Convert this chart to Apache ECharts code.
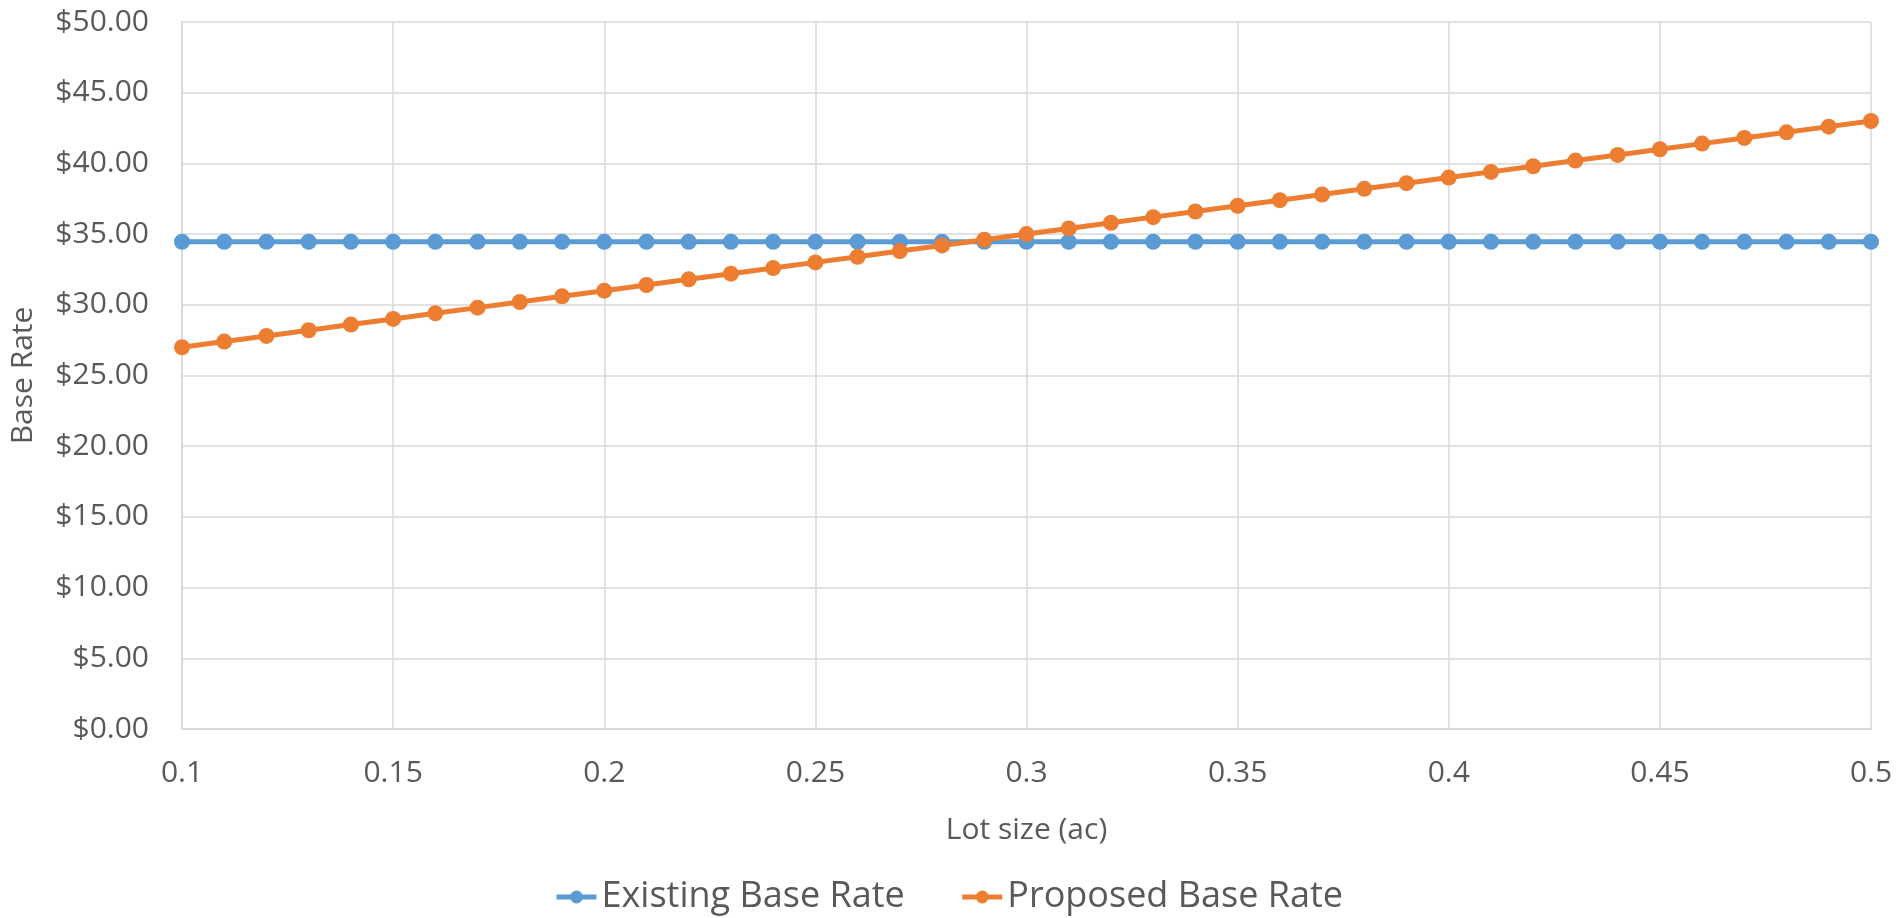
<!DOCTYPE html>
<html>
<head>
<meta charset="utf-8">
<script src="https://cdn.jsdelivr.net/npm/echarts@6/dist/echarts.min.js"></script>
<style>
html,body{margin:0;padding:0;background:#fff;}
#chart{width:1897px;height:918px;}
</style>
</head>
<body>
<div id="chart"></div>
<script>
const lotSizes = [0.10,0.11,0.12,0.13,0.14,0.15,0.16,0.17,0.18,0.19,0.20,0.21,0.22,0.23,0.24,0.25,0.26,0.27,0.28,0.29,0.30,0.31,0.32,0.33,0.34,0.35,0.36,0.37,0.38,0.39,0.40,0.41,0.42,0.43,0.44,0.45,0.46,0.47,0.48,0.49,0.50];
const existingRate = [34.46,34.46,34.46,34.46,34.46,34.46,34.46,34.46,34.46,34.46,34.46,34.46,34.46,34.46,34.46,34.46,34.46,34.46,34.46,34.46,34.46,34.46,34.46,34.46,34.46,34.46,34.46,34.46,34.46,34.46,34.46,34.46,34.46,34.46,34.46,34.46,34.46,34.46,34.46,34.46,34.46];
const proposedRate = [27.0,27.4,27.8,28.2,28.6,29.0,29.4,29.8,30.2,30.6,31.0,31.4,31.8,32.2,32.6,33.0,33.4,33.8,34.2,34.6,35.0,35.4,35.8,36.2,36.6,37.0,37.4,37.8,38.2,38.6,39.0,39.4,39.8,40.2,40.6,41.0,41.4,41.8,42.2,42.6,43.0];
const seriesNames = ['Existing Base Rate','Proposed Base Rate'];
const xTitle = 'Lot size (ac)';
const yTitle = 'Base Rate';

const font = '"Open Sans", "Noto Sans", sans-serif';
const textColor = '#595959';
const gridColor = '#d9d9d9';

const chart = echarts.init(document.getElementById('chart'));
const pairs = (ys) => lotSizes.map((x, i) => [x, ys[i]]);

chart.setOption({
  animation: false,
  color: ['#5B9BD5', '#ED7D31'],
  grid: { left: 181, right: 26, top: 22, bottom: 189, containLabel: false },
  xAxis: {
    type: 'value',
    min: 0.1, max: 0.5, interval: 0.05,
    name: xTitle,
    nameLocation: 'middle',
    nameGap: 86,
    nameTextStyle: { fontFamily: font, fontSize: 30, color: textColor },
    axisLine: { show: true, lineStyle: { color: gridColor, width: 2 } },
    axisTick: { show: false },
    splitLine: { show: true, lineStyle: { color: gridColor, width: 1.5 } },
    axisLabel: {
      fontFamily: font, fontSize: 30, color: textColor, margin: 29,
      formatter: (v) => String(Math.round(v * 100) / 100)
    }
  },
  yAxis: {
    type: 'value',
    min: 0, max: 50, interval: 5,
    name: yTitle,
    nameLocation: 'middle',
    nameGap: 144,
    nameRotate: 90,
    nameTextStyle: { fontFamily: font, fontSize: 30, color: textColor },
    axisLine: { show: true, lineStyle: { color: gridColor, width: 2 } },
    axisTick: { show: false },
    splitLine: { show: true, lineStyle: { color: gridColor, width: 1.5 } },
    axisLabel: {
      fontFamily: font, fontSize: 30, color: textColor, margin: 33,
      formatter: (v) => '$' + v.toFixed(2)
    }
  },
  legend: {
    data: seriesNames,
    left: 'center',
    top: 874,
    itemGap: 55,
    itemWidth: 40,
    itemHeight: 16,
    lineStyle: { width: 5 },
    textStyle: { fontFamily: font, fontSize: 36, color: textColor }
  },
  series: [
    {
      name: seriesNames[0], type: 'line', data: pairs(existingRate),
      symbol: 'circle', symbolSize: 16,
      lineStyle: { width: 5 }
    },
    {
      name: seriesNames[1], type: 'line', data: pairs(proposedRate),
      symbol: 'circle', symbolSize: 16,
      lineStyle: { width: 5 }
    }
  ]
});
</script>
</body>
</html>
